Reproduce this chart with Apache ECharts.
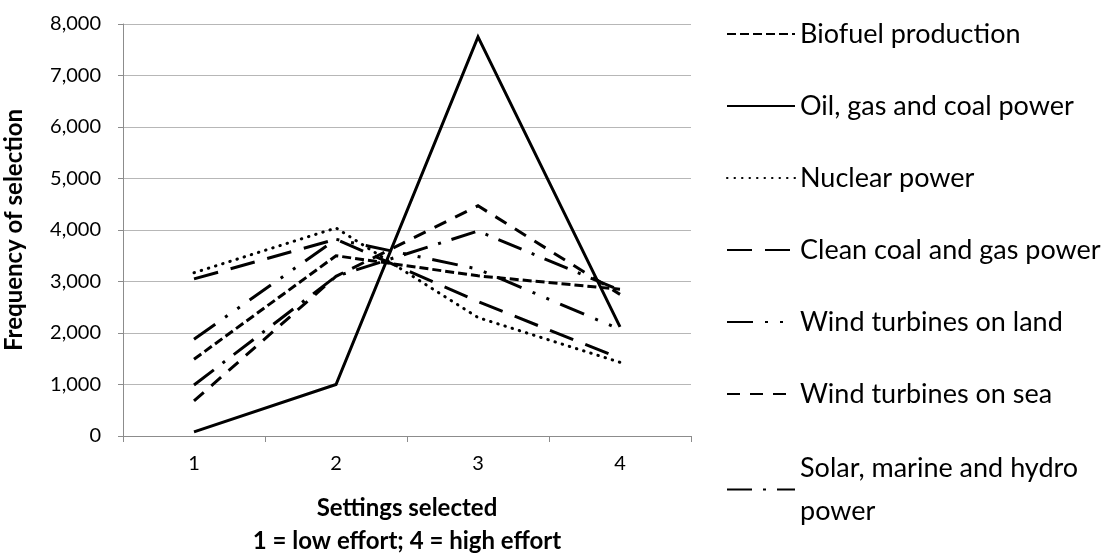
<!DOCTYPE html>
<html><head><meta charset="utf-8">
<script src="https://cdn.jsdelivr.net/npm/echarts@6/dist/echarts.min.js"></script>
<style>html,body{margin:0;padding:0;background:#fff}#c{width:1115px;height:557px}</style>
</head><body><div id="c"></div>
<script>
// ---- data ----
const categories = ['1', '2', '3', '4'];
const seriesNames = [
  'Biofuel production',
  'Oil, gas and coal power',
  'Nuclear power',
  'Clean coal and gas power',
  'Wind turbines on land',
  'Wind turbines on sea',
  'Solar, marine and hydro power'
];
const biofuel = [1490, 3500, 3110, 2850];
const oilGasCoal = [80, 1000, 7750, 2120];
const nuclear = [3170, 4040, 2300, 1430];
const cleanCoalGas = [3050, 3820, 2610, 1510];
const windLand = [1880, 3820, 3240, 2070];
const windSea = [680, 3100, 4470, 2750];
const solarMarineHydro = [990, 3100, 3980, 2830];
const yMin = 0, yMax = 8000, yStep = 1000;

// ---- styles ----
const FONT = 'Lato, "Liberation Sans", sans-serif';
const dashes = [
  { type: [9, 4], cap: 'butt' },
  { type: 'solid', cap: 'butt' },
  { type: [0.5, 7], cap: 'round' },
  { type: [25, 13], cap: 'butt' },
  { type: [26, 12, 3, 12, 3, 12], cap: 'butt' },
  { type: [13, 10], cap: 'butt' },
  { type: [25, 11, 3, 11], cap: 'butt' }
];
const values = [biofuel, oilGasCoal, nuclear, cleanCoalGas, windLand, windSea, solarMarineHydro];

const series = seriesNames.map((name, i) => ({
  name: name,
  type: 'line',
  data: values[i],
  symbol: 'none',
  animation: false,
  lineStyle: { color: '#000', width: 3, type: dashes[i].type, cap: dashes[i].cap, join: 'miter' },
  itemStyle: { color: '#000' }
}));

const legendCommon = {
  orient: 'vertical',
  left: 721,
  itemWidth: 68, itemHeight: 14,
  selectedMode: false,
  itemStyle: { color: 'rgba(0,0,0,0)', borderWidth: 0, opacity: 0 }
};

const chart = echarts.init(document.getElementById('c'), null, { renderer: 'canvas' });
chart.setOption({
  animation: false,
  backgroundColor: '#fff',
  textStyle: { fontFamily: FONT },
  grid: { left: 123, right: 424, top: 24, bottom: 121, containLabel: false, outerBoundsMode: 'none' },
  xAxis: {
    type: 'category',
    data: categories,
    boundaryGap: true,
    axisLine: { lineStyle: { color: '#8c8c8c', width: 1 } },
    axisTick: { show: true, alignWithLabel: false, length: 6, lineStyle: { color: '#8c8c8c' } },
    axisLabel: { color: '#000', fontSize: 20, fontFamily: FONT, margin: 18 },
    name: 'Settings selected\n1 = low effort; 4 = high effort',
    nameLocation: 'middle',
    nameGap: 56,
    nameTextStyle: { color: '#000', fontSize: 24, fontWeight: 'bold', fontFamily: FONT, lineHeight: 33, verticalAlign: 'top' }
  },
  yAxis: {
    type: 'value',
    min: yMin, max: yMax, interval: yStep,
    axisLine: { show: true, lineStyle: { color: '#8c8c8c', width: 1 } },
    axisTick: { show: true, length: 5, lineStyle: { color: '#8c8c8c' } },
    splitLine: { show: true, lineStyle: { color: '#b7b7b7', width: 1 } },
    axisLabel: { color: '#000', fontSize: 20, fontFamily: FONT, margin: 22,
      formatter: v => v.toLocaleString('en-US') },
    name: 'Frequency of selection',
    nameLocation: 'middle',
    nameRotate: 90,
    nameGap: 97,
    nameTextStyle: { color: '#000', fontSize: 24, fontWeight: 'bold', fontFamily: FONT }
  },
  legend: [
    Object.assign({}, legendCommon, {
      top: 13,
      itemGap: 40,
      data: seriesNames.slice(0, 6),
      textStyle: { color: '#000', fontSize: 27, fontFamily: FONT, lineHeight: 32, padding: [0, 0, 0, 0] }
    }),
    Object.assign({}, legendCommon, {
      top: 420,
      data: [seriesNames[6]],
      formatter: n => n.replace(' power', '\npower'),
      textStyle: { color: '#000', fontSize: 27, fontFamily: FONT, lineHeight: 43, padding: [43, 0, 0, 0] }
    })
  ],
  series: series
});
</script>
</body></html>
